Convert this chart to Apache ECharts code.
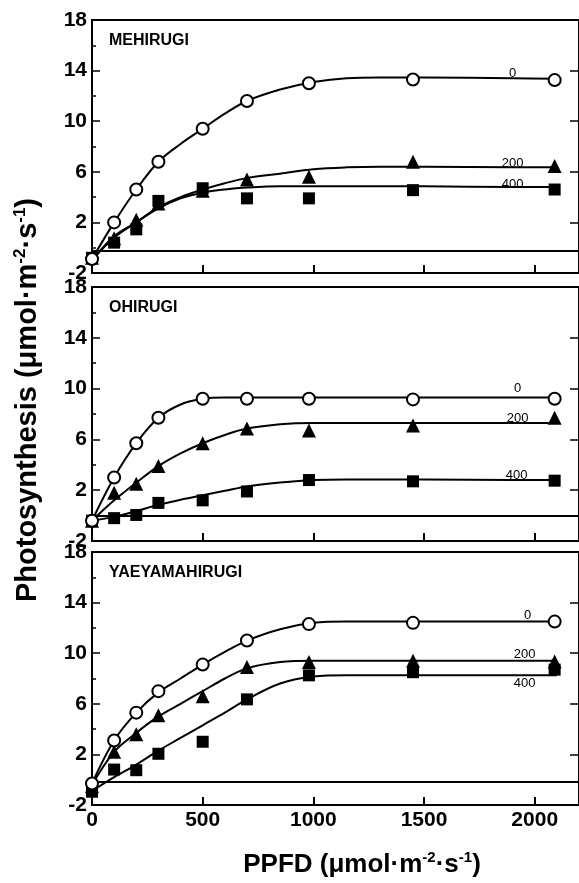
<!DOCTYPE html>
<html><head><meta charset="utf-8">
<script src="https://cdn.jsdelivr.net/npm/echarts@6/dist/echarts.min.js"></script>
<style>html,body{margin:0;padding:0;background:#fff}#c{width:579px;height:883px}</style>
</head><body><div id="c"></div>
<script>
// PPFD of measured points
const ppfd = [0, 100, 200, 300, 500, 700, 980, 1450, 2090];
// PPFD positions where the fitted curves were read
const fitPPFD = [0, 100, 200, 300, 400, 500, 600, 700, 850, 1000, 1150, 1300, 1500, 1900, 2100];
const panelNames = ['MEHIRUGI', 'OHIRUGI', 'YAEYAMAHIRUGI'];
const seriesNames = ['0', '200', '400'];
const yTickLabels = [-2, 2, 6, 10, 14, 18];
const yMinorTicks = [0, 4, 8, 12, 16];
const xTickLabels = [0, 500, 1000, 1500, 2000];
// baseline (zero) line of each panel as drawn
const baseLine = [-0.25, 0, -0.2];

// MEHIRUGI
const meh0 = [-0.9, 2.0, 4.6, 6.8, 9.4, 11.6, 13.0, 13.3, 13.25];
const meh200 = [-0.8, 0.75, 2.2, 3.5, 4.5, 5.4, 5.6, 6.8, 6.45];
const meh400 = [-0.8, 0.4, 1.45, 3.7, 4.7, 3.9, 3.9, 4.55, 4.6];
const meh0Fit = [-0.9, 2.0, 4.6, 6.8, 8.2, 9.4, 10.6, 11.6, 12.5, 13.1, 13.4, 13.45, 13.45, 13.4, 13.35];
const meh200Fit = [-1.0, 0.9, 2.0, 3.2, 4.0, 4.6, 5.1, 5.5, 5.85, 6.2, 6.35, 6.4, 6.4, 6.35, 6.35];
const meh400Fit = [-1.0, 0.8, 2.0, 3.1, 3.9, 4.35, 4.6, 4.75, 4.85, 4.85, 4.85, 4.85, 4.85, 4.8, 4.8];
// OHIRUGI
const ohi0 = [-0.4, 3.0, 5.7, 7.7, 9.2, 9.2, 9.2, 9.15, 9.2];
const ohi200 = [-0.4, 1.8, 2.5, 3.9, 5.7, 6.85, 6.7, 7.1, 7.7];
const ohi400 = [-0.4, -0.2, 0.05, 1.0, 1.2, 1.9, 2.8, 2.7, 2.75];
const ohi0Fit = [-0.4, 3.0, 5.7, 7.7, 8.75, 9.2, 9.3, 9.3, 9.3, 9.3, 9.3, 9.3, 9.3, 9.3, 9.3];
const ohi200Fit = [-0.4, 1.2, 2.6, 3.9, 4.9, 5.7, 6.35, 6.85, 7.2, 7.3, 7.3, 7.3, 7.3, 7.3, 7.3];
const ohi400Fit = [-0.4, -0.1, 0.35, 0.85, 1.25, 1.6, 1.95, 2.3, 2.6, 2.8, 2.85, 2.85, 2.85, 2.8, 2.8];
// YAEYAMAHIRUGI
const yae0 = [-0.3, 3.1, 5.3, 7.0, 9.1, 11.0, 12.3, 12.4, 12.5];
const yae200 = [-0.5, 2.2, 3.6, 5.1, 6.6, 8.9, 9.3, 9.4, 9.35];
const yae400 = [-0.95, 0.8, 0.75, 2.05, 3.0, 6.35, 8.25, 8.5, 8.7];
const yae0Fit = [-0.3, 3.1, 5.3, 6.9, 8.0, 9.1, 10.1, 11.0, 11.9, 12.4, 12.5, 12.5, 12.5, 12.5, 12.5];
const yae200Fit = [-0.4, 2.2, 3.7, 5.0, 6.0, 7.0, 8.0, 8.8, 9.3, 9.4, 9.4, 9.4, 9.4, 9.4, 9.4];
const yae400Fit = [-0.9, 0.2, 1.2, 2.3, 3.3, 4.3, 5.3, 6.35, 7.6, 8.15, 8.25, 8.25, 8.25, 8.25, 8.25];

const points = [[meh0, meh200, meh400], [ohi0, ohi200, ohi400], [yae0, yae200, yae400]];
const fits = [[meh0Fit, meh200Fit, meh400Fit], [ohi0Fit, ohi200Fit, ohi400Fit], [yae0Fit, yae200Fit, yae400Fit]];
// which side of the curve its label sits
const labelSide = [['top', 'top', 'top'], ['top', 'top', 'top'], ['top', 'top', 'bottom']];
const labelAtPPFD = 1900;

const FONT = '"Liberation Sans", Arial, sans-serif';
const gridTops = [20, 287, 552];
const gridHeights = [253, 254, 253];
const labelShift = [[0, 0, 0], [5, 5, 4], [15, 12, 12]];
const labelDist = [[-2, -3, -4], [2, -3, -2], [-1, -1, 1]];
const grids = [], xAxes = [], yAxes = [], series = [], graphics = [];
const symbols = ['circle', 'triangle', 'rect'];
const sizes = [12, 14, 12];

for (let p = 0; p < 3; p++) {
  grids.push({left: 92, top: gridTops[p], width: 493, height: gridHeights[p], show: true,
    borderColor: '#000', borderWidth: 2, backgroundColor: 'transparent'});
  xAxes.push({type: 'value', gridIndex: p, min: 0, max: 2200, interval: 500,
    axisLine: {show: true, onZero: false, lineStyle: {color: '#000', width: 2}},
    axisTick: {show: true, inside: true, length: 8, lineStyle: {color: '#000', width: 2}, customValues: [500, 1000, 1500, 2000]},
    axisLabel: {show: p === 2, customValues: xTickLabels, formatter: v => String(v), color: '#000', fontFamily: FONT, fontWeight: 'bold', fontSize: 21, margin: 5},
    splitLine: {show: false}});
  const base = yAxes.length;
  yAxes.push({type: 'value', gridIndex: p, min: -2, max: 18, interval: 2, position: 'left',
    axisLine: {show: true, onZero: false, lineStyle: {color: '#000', width: 2}},
    axisTick: {show: true, inside: true, length: 8, lineStyle: {color: '#000', width: 1.5}, customValues: [2, 6, 10, 14]},
    axisLabel: {show: true, customValues: yTickLabels, formatter: v => String(v), color: '#000', fontFamily: FONT, fontWeight: 'bold', fontSize: 21, margin: 5},
    splitLine: {show: false}});
  yAxes.push({type: 'value', gridIndex: p, min: -2, max: 18, interval: 2, position: 'left',
    axisLine: {show: false},
    axisTick: {show: true, inside: true, length: 4, lineStyle: {color: '#000', width: 1.5}, customValues: yMinorTicks},
    axisLabel: {show: false}, splitLine: {show: false}});
  yAxes.push({type: 'value', gridIndex: p, min: -2, max: 18, interval: 2, position: 'right',
    axisLine: {show: false},
    axisTick: {show: true, inside: true, length: 9, lineStyle: {color: '#000', width: 1.5}, customValues: [2, 6, 10, 14]},
    axisLabel: {show: false}, splitLine: {show: false}});

  for (let s = 0; s < 3; s++) {
    const li = fitPPFD.indexOf(labelAtPPFD);
    const fitData = fitPPFD.map((x, i) => i === li ? {value: [x, fits[p][s][i]],
      label: {show: true, formatter: seriesNames[s], position: labelSide[p][s], distance: labelDist[p][s],
        offset: [labelShift[p][s], 0], color: '#000', fontFamily: FONT, fontSize: 13, opacity: 1}} : [x, fits[p][s][i]]);
    const ser = {type: 'line', name: seriesNames[s] + ' fit', xAxisIndex: p, yAxisIndex: base,
      data: fitData, smooth: 0.35, showSymbol: true, symbol: 'circle', symbolSize: 1, silent: true, z: 2,
      itemStyle: {color: 'rgba(0,0,0,0)', borderWidth: 0},
      lineStyle: {color: '#000', width: 2}};
    if (s === 0) {
      ser.markLine = {silent: true, symbol: 'none', label: {show: false},
        lineStyle: {color: '#000', width: 2, type: 'solid'}, data: [{yAxis: baseLine[p]}]};
    }
    series.push(ser);
  }
  for (let s = 2; s >= 0; s--) {
    series.push({type: 'scatter', name: seriesNames[s], xAxisIndex: p, yAxisIndex: base,
      data: ppfd.map((x, i) => [x, points[p][s][i]]), symbol: symbols[s], symbolSize: sizes[s], z: 5 + (2 - s),
      itemStyle: s === 0 ? {color: '#fff', borderColor: '#000', borderWidth: 2, opacity: 1} : {color: '#000', borderWidth: 0, opacity: 1}});
  }
  graphics.push({type: 'text', left: 109, top: gridTops[p] + 13,
    style: {text: panelNames[p], font: 'bold 16px ' + FONT, fill: '#000'}});
}

graphics.push({type: 'text', x: 362, y: 865, style: {
  text: 'PPFD (μmol·m{s|-2}·s{s|-1})', font: 'bold 26px ' + FONT, fill: '#000', align: 'center', verticalAlign: 'middle',
  rich: {s: {fontSize: 15, fontWeight: 'bold', fontFamily: FONT, verticalAlign: 'top', lineHeight: 30}}}});
graphics.push({type: 'text', x: 28, y: 400, rotation: Math.PI / 2, style: {
  text: 'Photosynthesis (μmol·m{s|-2}·s{s|-1})', font: 'bold 29px ' + FONT, fill: '#000', align: 'center', verticalAlign: 'middle',
  rich: {s: {fontSize: 17, fontWeight: 'bold', fontFamily: FONT, verticalAlign: 'top', lineHeight: 33}}}});

const chart = echarts.init(document.getElementById('c'), null, {renderer: 'canvas'});
chart.setOption({animation: false, backgroundColor: '#fff', grid: grids, xAxis: xAxes, yAxis: yAxes, series: series, graphic: graphics});
</script></body></html>
